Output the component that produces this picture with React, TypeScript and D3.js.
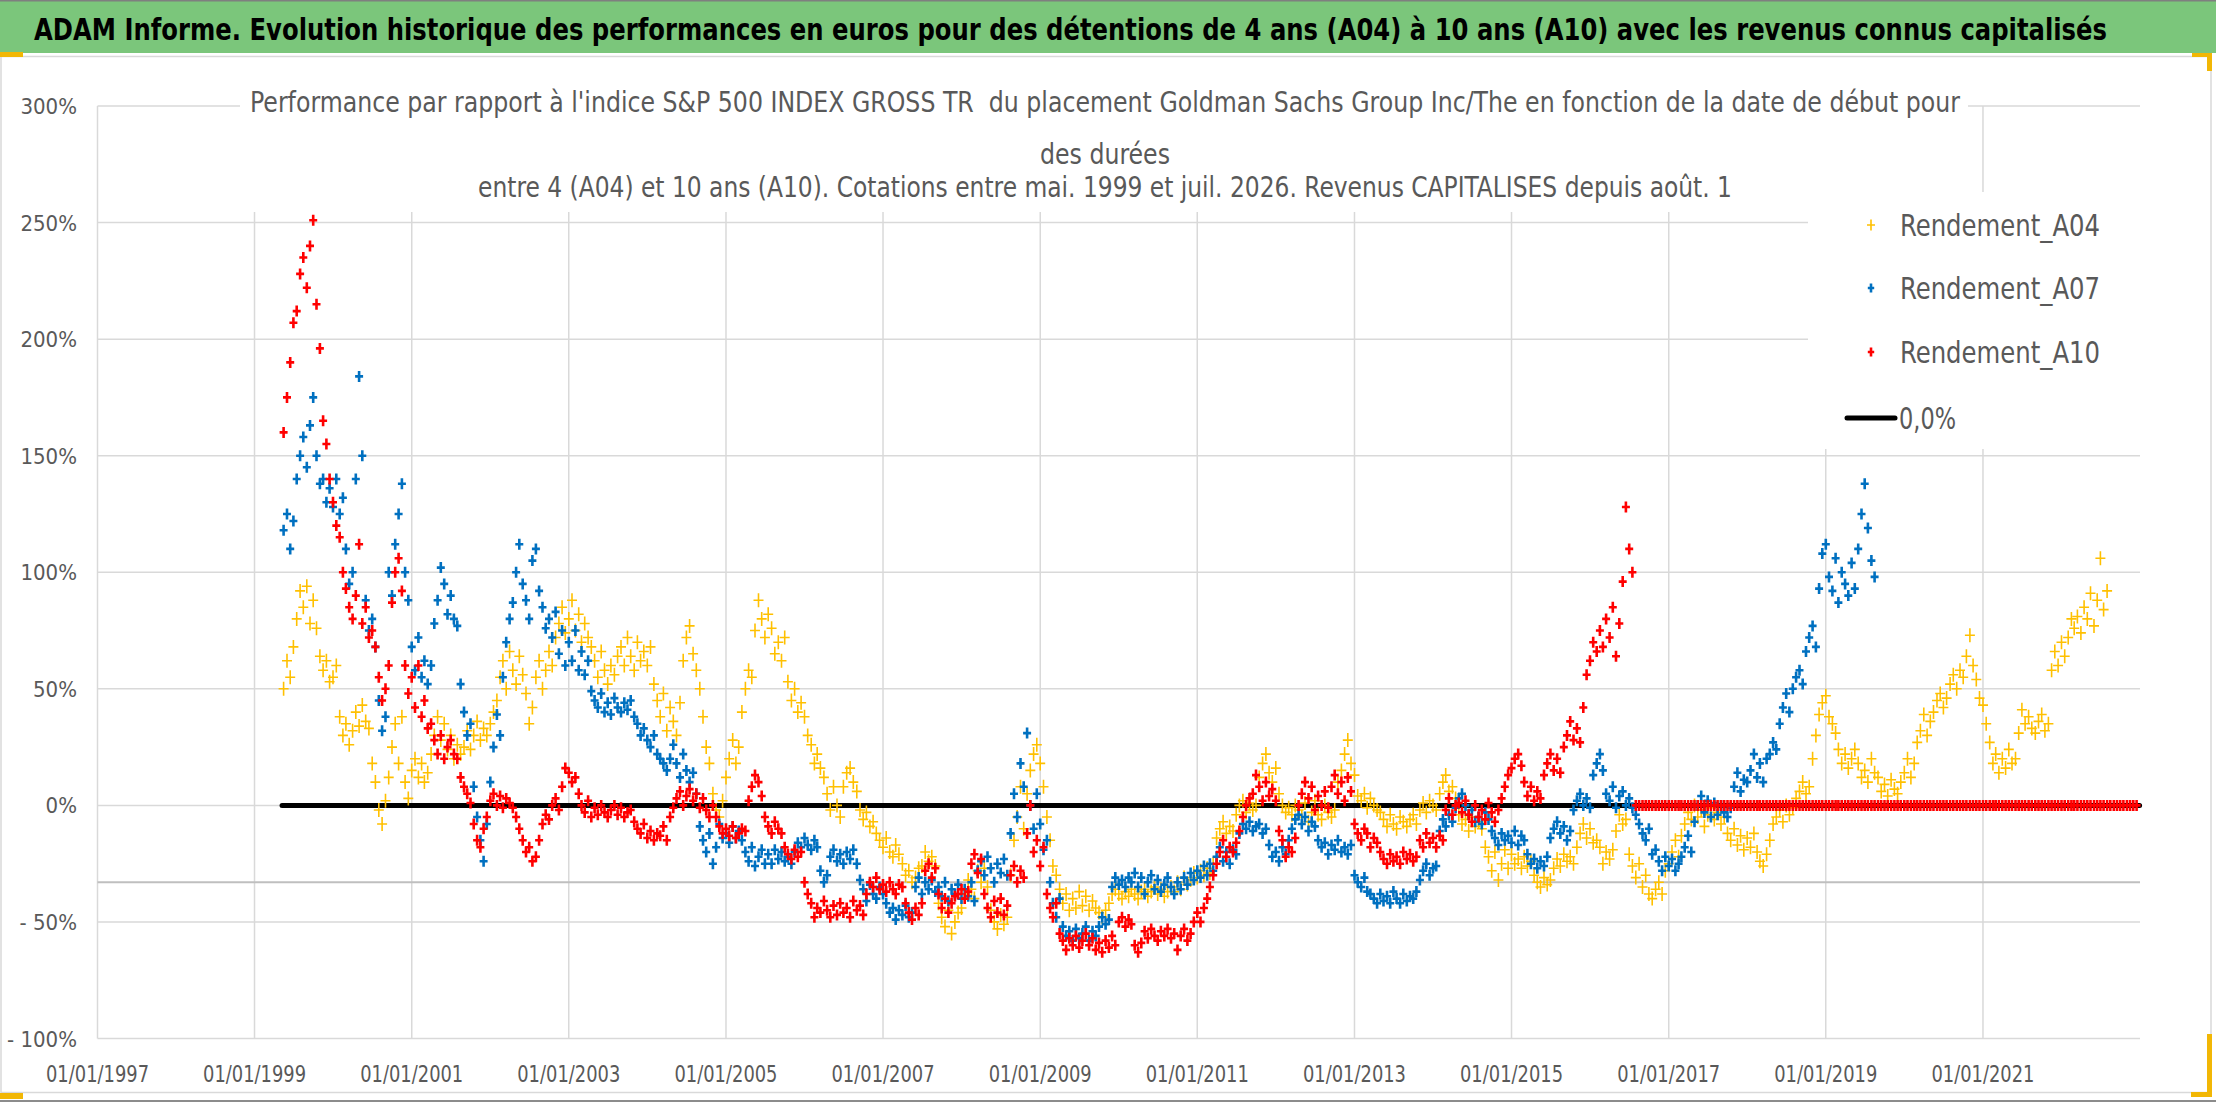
import React from 'react';
import * as d3 from 'd3';

const W = 2216;
const H = 1102;

const headerText =
  'ADAM Informe. Evolution historique des performances en euros pour des détentions de 4 ans (A04) à 10 ans (A10) avec les revenus connus capitalisés';
const titleLines = [
  "Performance par rapport à l'indice S&P 500 INDEX GROSS TR \u00A0du placement Goldman Sachs Group Inc/The en fonction de la date de début pour",
  'des durées',
  'entre 4 (A04) et 10 ans (A10). Cotations entre mai. 1999 et juil. 2026. Revenus CAPITALISES depuis août. 1',
];

const seriesNames = ['Rendement_A04', 'Rendement_A07', 'Rendement_A10'];
const zeroLineName = '0,0%';
const xTickYears = [1997, 1999, 2001, 2003, 2005, 2007, 2009, 2011, 2013, 2015, 2017, 2019, 2021];
const yTicks = [-100, -50, 0, 50, 100, 150, 200, 250, 300];
const axisCrossing = -33; // horizontal axis line position (%)

// zero line series: first and last date
const zeroLineStart = new Date(1999, 4, 9);
const zeroLineEnd = new Date(2022, 11, 30);

// values in %, one value on the 1st and the 16th of each month
// A04 starts 16 May 1999
const a04 = [
  // 1999
  50, 62, 55, 68, 80, 92, 85, 94, 78, 88, 76, 64, 58, 62, 53,
  // 2000
  55, 60, 38, 30, 35, 26, 32, 40, 34, 43, 36, 33, 18, 10, -2, -8, 2, 12, 25, 35, 18, 38, 10, 3,
  // 2001
  15, 20, 12, 18, 10, 14, 22, 30, 38, 28, 35, 24, 30, 20, 26, 22, 25, 32, 24, 30, 36, 28, 33, 30,
  // 2002
  35, 40, 45, 55, 62, 50, 66, 58, 52, 64, 56, 48, 35, 42, 55, 62, 50, 58, 66, 60, 72, 78, 85, 74,
  // 2003
  80, 88, 75, 82, 70, 78, 72, 68, 62, 55, 66, 58, 52, 60, 56, 64, 68, 60, 72, 64, 58, 70, 62, 66,
  // 2004
  60, 68, 52, 45, 38, 48, 32, 42, 36, 30, 44, 62, 72, 77, 65, 58, 50, 38, 25, 18, 5, -2, -5, 2,
  // 2005
  12, 20, 28, 18, 25, 40, 50, 58, 55, 75, 88, 80, 72, 82, 76, 65, 70, 62, 72, 53, 45, 50, 40, 44,
  // 2006
  38, 30, 26, 18, 22, 16, 12, 5, -2, 8, 0, -5, 8, 14, 16, 10, 6, -2, -6, -3, -9, -7, -12, -15,
  // 2007
  -18, -14, -20, -22, -17, -21, -25, -30, -28, -33, -31, -27, -26, -20, -24, -22, -26, -42, -48, -52, -45, -55, -50, -46,
  // 2008
  -44, -38, -32, -36, -40, -28, -33, -27, -35, -45, -50, -53, -47, -51, -48, -30, -15, -5, 8, -10, 5, 15, 22, 26,
  // 2009
  18, 8, -5, -15, -26, -30, -36, -42, -38, -45, -40, -44, -37, -43, -39, -45, -41, -44, -46, -48, -45, -42, -38, -36,
  // 2010
  -38, -40, -37, -39, -36, -38, -40, -37, -36, -39, -37, -35, -38, -36, -39, -37, -35, -37, -33, -36, -31, -34, -32, -29,
  // 2011
  -31, -28, -30, -27, -29, -25, -14, -10, -7, -12, -9, -11, -4, 0, 2, -3, 1, -2, 0, 12, 18, 22, 14, 10,
  // 2012
  16, 5, 0, -3, -1, -4, 0, -2, -5, 1, -7, -3, 2, -4, -6, 0, -3, -5, -2, 10, 15, 22, 28, 18,
  // 2013
  13, 4, 2, 5, -1, 3, 0, -2, -3, -6, -9, -4, -8, -10, -5, -7, -9, -6, -4, -8, -2, 1, -3, 2,
  // 2014
  0, -2, 5, 10, 13, 6, 8, 3, -4, -8, -6, -11, -5, -9, -7, -10, -18, -22, -28, -20, -32, -25, -19, -27,
  // 2015
  -21, -25, -23, -27, -22, -26, -24, -30, -33, -35, -31, -34, -32, -27, -23, -26, -21, -24, -22, -25, -18, -12, -8, -14,
  // 2016
  -10, -16, -15, -18, -25, -20, -23, -19, -11, -4, -8, -6, -21, -26, -31, -25, -35, -30, -38, -40, -36, -33, -38, -28,
  // 2017
  -25, -20, -15, -22, -13, -8, -3, -6, 0, -5, -2, -9, -4, -1, -6, -3, -8, -5, -12, -15, -10, -17, -13, -19,
  // 2018
  -14, -18, -12, -20, -24, -26, -21, -15, -8, -5, -2, -7, 0, -4, -1, 3, 6, 10, 5, 8, 20, 30, 39, 44,
  // 2019
  47, 38, 35, 31, 24, 18, 22, 16, 20, 24, 18, 12, 15, 10, 20, 14, 12, 6, 9, 4, 11, 7, 5, 10,
  // 2020
  14, 20, 12, 18, 27, 32, 39, 30, 36, 40, 45, 48, 42, 46, 52, 56, 50, 58, 55, 64, 73, 60, 54, 46,
  // 2021
  43, 35, 27, 18, 22, 14, 20, 16, 24, 18, 20, 31, 41, 35, 38, 33, 31, 36, 39, 32, 35, 58, 66, 60,
  // 2022
  70, 64, 72, 80, 76, 81, 74, 85, 80, 91, 77, 88, 106, 84, 92,
];

// A07 starts 16 May 1999
const a07 = [
  // 1999
  118, 125, 110, 122, 140, 150, 158, 145, 163, 175, 150, 138, 140, 130, 136,
  // 2000
  128, 140, 125, 132, 110, 95, 100, 140, 184, 150, 88, 75, 80, 68, 45, 32, 38, 100, 90, 112, 125, 138, 100, 88,
  // 2001
  68, 58, 72, 55, 62, 52, 60, 78, 88, 102, 95, 82, 90, 80, 77, 52, 40, 30, 35, 8, -5, -15, -24, -8,
  // 2002
  10, 25, 39, 30, 55, 70, 80, 87, 100, 112, 95, 88, 80, 105, 110, 92, 85, 76, 80, 72, 83, 65, 75, 60,
  // 2003
  70, 62, 75, 58, 66, 56, 62, 49, 45, 42, 48, 40, 44, 39, 46, 42, 40, 44, 41, 45, 38, 35, 30, 33,
  // 2004
  28, 25, 30, 22, 20, 18, 15, 20, 26, 18, 12, 22, 15, 10, 14, 5, -9, -15, -20, -12, -25, -18, -8, -14,
  // 2005
  -12, -16, -9, -14, -11, -15, -20, -24, -18, -26, -22, -19, -25, -21, -25, -19, -23, -20, -24, -22, -25, -20, -16, -18,
  // 2006
  -14, -17, -19, -15, -18, -28, -33, -30, -22, -19, -24, -21, -25, -20, -23, -19, -25, -32, -36, -41, -34, -38, -40, -35,
  // 2007
  -38, -42, -46, -44, -49, -45, -47, -43, -48, -46, -35, -31, -38, -33, -36, -32, -37, -35, -39, -33, -41, -36, -38, -34,
  // 2008
  -40, -36, -39, -33, -41, -28, -24, -30, -22, -27, -33, -25, -29, -23, -30, -12, 5, -5, 18, 8, 31, 0, -10, 5,
  // 2009
  -8, -19, -15, -33, -42, -48, -40, -52, -56, -54, -58, -53, -57, -55, -52, -58, -54, -56, -52, -48, -51, -49, -35, -31,
  // 2010
  -34, -32, -35, -31, -33, -29, -35, -31, -38, -33, -30, -36, -32, -37, -34, -31, -35, -38, -33, -36, -31, -34, -29, -32,
  // 2011
  -28, -31, -26, -30, -25, -28, -22, -18, -24, -20, -25, -19, -21, -12, -8, -10, -7, -11, -9, -8, -12, -10, -17, -22,
  // 2012
  -20, -24, -18, -21, -15, -10, -6, -4, -8, -5, -11, -7, -9, -15, -18, -16, -21, -17, -19, -15, -20, -18, -21, -17,
  // 2013
  -30, -33, -35, -31, -37, -38, -40, -42, -38, -41, -39, -42, -37, -40, -42, -38, -41, -39, -40, -37, -32, -28, -25, -30,
  // 2014
  -27, -26, -11, -6, -9, -4, -7, -1, 3, 5, 0, -4, -2, -7, -5, -8, -3, -6, -11, -14, -17, -12, -15, -13,
  // 2015
  -16, -11, -17, -13, -15, -21, -25, -23, -27, -24, -26, -22, -14, -10, -7, -12, -9, -15, -11, -2, 2, 5, 0, 3,
  // 2016
  -1, 13, 18, 22, 15, 5, 2, 8, -1, 4, 6, 0, 3, -1, -4, -8, -12, -15, -10, -21, -19, -24, -28, -22,
  // 2017
  -26, -23, -28, -25, -22, -18, -13, -20, -7, 0, 4, -3, 2, -5, 1, -4, 0, -3, -5, -1, 8, 14, 6, 11,
  // 2018
  10, 15, 22, 12, 18, 10, 20, 22, 27, 24, 35, 42, 48, 40, 50, 55, 58, 52, 66, 72, 77, 68, 93, 108,
  // 2019
  112, 98, 92, 106, 87, 100, 95, 90, 104, 93, 110, 125, 138, 119, 105, 98,
];

// A10 starts 16 May 1999
const a10 = [
  // 1999
  160, 175, 190, 207, 212, 228, 235, 222, 240, 251, 215, 196, 165, 155, 140,
  // 2000
  130, 120, 115, 100, 93, 85, 80, 90, 112, 78, 85, 72, 75, 68, 55, 45, 50, 60, 87, 100, 106, 92, 60, 48,
  // 2001
  55, 42, 60, 38, 45, 33, 35, 28, 22, 30, 20, 25, 28, 22, 20, 12, 8, 5, 1, -8, -15, -18, -10, -5,
  // 2002
  2, 5, 0, 4, -1, 3, 1, -1, -5, -10, -15, -20, -18, -24, -22, -15, -8, -4, -6, 0, 3, -2, 8, 16,
  // 2003
  14, 10, 12, 5, 0, -3, 2, -5, -1, -4, 0, -3, -5, -2, 0, -4, -1, -5, -3, -2, -7, -10, -12, -8,
  // 2004
  -14, -11, -15, -12, -13, -9, -15, -5, -1, 3, 6, 0, 4, 7, 2, 5, -1, 3, -2, -5, 0, -5, -9, -12,
  // 2005
  -10, -13, -9, -14, -12, -10, -11, 2, 8, 13, 10, 4, -5, -9, -12, -7, -10, -12, -18, -21, -23, -19, -22, -20,
  // 2006
  -33, -38, -42, -48, -44, -46, -41, -45, -48, -43, -47, -42, -46, -44, -48, -41, -45, -43, -47, -38, -33, -35, -31, -36,
  // 2007
  -34, -37, -33, -36, -38, -34, -35, -42, -46, -49, -44, -47, -42, -28, -25, -31, -27, -38, -44, -40, -46, -42, -39, -38,
  // 2008
  -36, -40, -37, -25, -21, -29, -23, -38, -44, -48, -41, -46, -40, -47, -43, -30, -26, -33, -28, -31, -12, 0, -20, -15,
  // 2009
  -26, -18, -38, -44, -48, -42, -55, -58, -62, -57, -60, -56, -61, -58, -55, -60, -57, -62, -59, -63, -58, -61, -56, -60,
  // 2010
  -50, -48, -52, -49, -51, -60, -63, -59, -54, -57, -53, -56, -58, -54, -56, -53, -57, -55, -62, -56, -53, -58, -55, -50,
  // 2011
  -46, -50, -44, -40, -35, -30, -25, -20, -15, -22, -18, -20, -16, -11, -5, 0, 3, 5, 13, 8, 2, 10, 4, 7,
  // 2012
  2, -11, -15, -22, -18, -20, -14, 0, 5, 10, 3, 8, -2, 4, 0, 6, -1, 8, 13, 5, 10, 2, 12, 6,
  // 2013
  -8, -12, -15, -10, -12, -18, -14, -16, -20, -23, -25, -21, -24, -22, -25, -20, -23, -21, -24, -22, -15, -18, -12, -16,
  // 2014
  -14, -18, -13, -15, -2, 3, -4, 0, 1, -3, 2, -4, -7, 0, -5, -2, -6, 1, -3, -7, -2, 3, 8, 13,
  // 2015
  16, 20, 22, 17, 10, 4, 8, 2, 6, 3, 13, 18, 22, 15, 20, 14, 25, 30, 36, 28, 33, 27, 42, 56,
  // 2016
  62, 70, 66, 75, 68, 80, 72, 85, 64, 78, 96, 128, 110, 100,
  // 2016 (from 1 Aug): no more 10-year results
  0, 0, 0, 0, 0, 0, 0, 0, 0, 0,
  // 2017
  0, 0, 0, 0, 0, 0, 0, 0, 0, 0, 0, 0, 0, 0, 0, 0, 0, 0, 0, 0, 0, 0, 0, 0,
  // 2018
  0, 0, 0, 0, 0, 0, 0, 0, 0, 0, 0, 0, 0, 0, 0, 0, 0, 0, 0, 0, 0, 0, 0, 0,
  // 2019
  0, 0, 0, 0, 0, 0, 0, 0, 0, 0, 0, 0, 0, 0, 0, 0, 0, 0, 0, 0, 0, 0, 0, 0,
  // 2020
  0, 0, 0, 0, 0, 0, 0, 0, 0, 0, 0, 0, 0, 0, 0, 0, 0, 0, 0, 0, 0, 0, 0, 0,
  // 2021
  0, 0, 0, 0, 0, 0, 0, 0, 0, 0, 0, 0, 0, 0, 0, 0, 0, 0, 0, 0, 0, 0, 0, 0,
  // 2022
  0, 0, 0, 0, 0, 0, 0, 0, 0, 0, 0, 0, 0, 0, 0, 0, 0, 0, 0, 0, 0, 0, 0, 0,
];

const seriesValues = [a04, a07, a10];
const seriesStart = new Date(1999, 4, 16);

const COLORS = ['#FFC000', '#0070C0', '#FF0000'];
const MARK = [
  { w: 10, h: 14, sw: 1.6 },
  { w: 8, h: 11, sw: 2.6 },
  { w: 8, h: 11, sw: 2.6 },
];
const FONT = "'Liberation Sans Narrow', 'DejaVu Sans Condensed', 'Arial Narrow', sans-serif";
const GREY_TEXT = '#595959';
const GRID = '#D9D9D9';

// half-month sample dates: 1st and 16th of each month
function sampleDate(start: Date, i: number) {
  const half = (start.getDate() >= 16 ? 1 : 0) + i;
  return new Date(start.getFullYear(), start.getMonth() + Math.floor(half / 2), half % 2 ? 16 : 1);
}

function plusPath(x: number, y: number, w: number, h: number) {
  return `M${(x - w / 2).toFixed(1)},${y.toFixed(1)}h${w}M${x.toFixed(1)},${(y - h / 2).toFixed(1)}v${h}`;
}

export default function App() {
  const plot = { left: 97.5, right: 2140, top: 106, bottom: 1038.5 };

  const x = d3
    .scaleTime()
    .domain([new Date(1997, 0, 1), new Date(2023, 0, 1)])
    .range([plot.left, plot.right]);
  const y = d3.scaleLinear().domain([-100, 300]).range([plot.bottom, plot.top]);

  const fmtDate = d3.timeFormat('%d/%m/%Y');
  const fmtPct = (v: number) => (v < 0 ? `- ${Math.abs(v)}%` : `${v}%`);

  const seriesPaths = seriesValues.map((vals, s) => {
    const m = MARK[s];
    return vals
      .map((v, i) => plusPath(x(sampleDate(seriesStart, i)), y(v), m.w, m.h))
      .join('');
  });

  const legendY = [225, 288, 352, 418];
  const legendMarkX = 1871;
  const legendTextX = 1900;

  return (
    <svg
      width={W}
      height={H}
      viewBox={`0 0 ${W} ${H}`}
      style={{ position: 'absolute', left: 0, top: 0, display: 'block', background: '#fff' }}
    >
      <rect x={0} y={0} width={W} height={H} fill="#fff" />

      {/* header band */}
      <rect x={0} y={0} width={W} height={53} fill="#7BC67B" />
      <line x1={0} x2={W} y1={0.75} y2={0.75} stroke="#7F7F7F" strokeWidth={1.5} />
      <g transform="translate(34,40) scale(1,1.25)">
        <text
          x={0}
          y={0}
          fontFamily={FONT}
          fontSize={24}
          fontWeight="bold"
          fill="#000"
          textLength={2073}
          lengthAdjust="spacingAndGlyphs"
        >
          {headerText}
        </text>
      </g>

      {/* chart area frame */}
      <rect x={1} y={56.5} width={2210} height={1036} fill="none" stroke={GRID} strokeWidth={1.5} />
      <line x1={0} x2={W} y1={1101} y2={1101} stroke="#8C8C8C" strokeWidth={2} />
      <g fill="#F2B705">
        <rect x={0} y={52} width={23} height={5} />
        <rect x={2192} y={53} width={20} height={4} />
        <rect x={2207} y={53} width={5} height={18} />
        <rect x={2207} y={1034} width={5} height={62} />
        <rect x={2191} y={1092} width={21} height={5} />
        <rect x={0} y={1093} width={23} height={6} />
      </g>

      {/* gridlines */}
      <g stroke={GRID} strokeWidth={1.5}>
        {yTicks.map((t) => (
          <line key={`h${t}`} x1={plot.left} x2={plot.right} y1={y(t)} y2={y(t)} />
        ))}
        {xTickYears.map((yr) => {
          const xx = x(new Date(yr, 0, 1));
          return <line key={`v${yr}`} x1={xx} x2={xx} y1={plot.top} y2={plot.bottom} />;
        })}
      </g>
      <line
        x1={plot.left}
        x2={plot.right}
        y1={y(axisCrossing)}
        y2={y(axisCrossing)}
        stroke="#BFBFBF"
        strokeWidth={2}
      />

      {/* title and legend boxes hide the grid */}
      <rect x={240} y={80} width={1728} height={132} fill="#fff" />
      <rect x={1808} y={192} width={342} height={257} fill="#fff" />

      {/* 0,0% line */}
      <line
        x1={x(zeroLineStart)}
        x2={x(zeroLineEnd)}
        y1={y(0)}
        y2={y(0)}
        stroke="#000"
        strokeWidth={5}
        strokeLinecap="round"
      />

      {/* scatter series */}
      {seriesPaths.map((d, s) => (
        <path key={seriesNames[s]} d={d} fill="none" stroke={COLORS[s]} strokeWidth={MARK[s].sw} />
      ))}

      {/* y axis labels */}
      <g fontFamily={FONT} fontSize={22} fill={GREY_TEXT} textAnchor="end">
        {yTicks.map((t) => (
          <text key={`yl${t}`} x={77} y={y(t) + 8}>
            {fmtPct(t)}
          </text>
        ))}
      </g>

      {/* x axis labels */}
      <g fontFamily={FONT} fontSize={23} fill={GREY_TEXT} textAnchor="middle">
        {xTickYears.map((yr) => {
          const d = new Date(yr, 0, 1);
          return (
            <text
              key={`xl${yr}`}
              x={x(d)}
              y={1082}
              textLength={103}
              lengthAdjust="spacingAndGlyphs"
            >
              {fmtDate(d)}
            </text>
          );
        })}
      </g>

      {/* chart title */}
      <g fontFamily={FONT} fontSize={29} fill={GREY_TEXT} textAnchor="middle">
        <text x={1105} y={112} textLength={1710} lengthAdjust="spacingAndGlyphs">
          {titleLines[0]}
        </text>
        <text x={1105} y={164} textLength={130} lengthAdjust="spacingAndGlyphs">
          {titleLines[1]}
        </text>
        <text x={1105} y={197} textLength={1254} lengthAdjust="spacingAndGlyphs">
          {titleLines[2]}
        </text>
      </g>

      {/* legend */}
      <g fontFamily={FONT} fontSize={30} fill={GREY_TEXT}>
        {seriesNames.map((name, s) => (
          <g key={`lg${name}`}>
            <path
              d={plusPath(legendMarkX, legendY[s], MARK[s].w * 0.8, MARK[s].h * 0.8)}
              stroke={COLORS[s]}
              strokeWidth={MARK[s].sw}
              fill="none"
            />
            <text x={legendTextX} y={legendY[s] + 11} textLength={200} lengthAdjust="spacingAndGlyphs">
              {name}
            </text>
          </g>
        ))}
        <line
          x1={1847}
          x2={1895}
          y1={legendY[3]}
          y2={legendY[3]}
          stroke="#000"
          strokeWidth={5}
          strokeLinecap="round"
        />
        <text x={1899} y={legendY[3] + 11} textLength={57} lengthAdjust="spacingAndGlyphs">
          {zeroLineName}
        </text>
      </g>
    </svg>
  );
}
